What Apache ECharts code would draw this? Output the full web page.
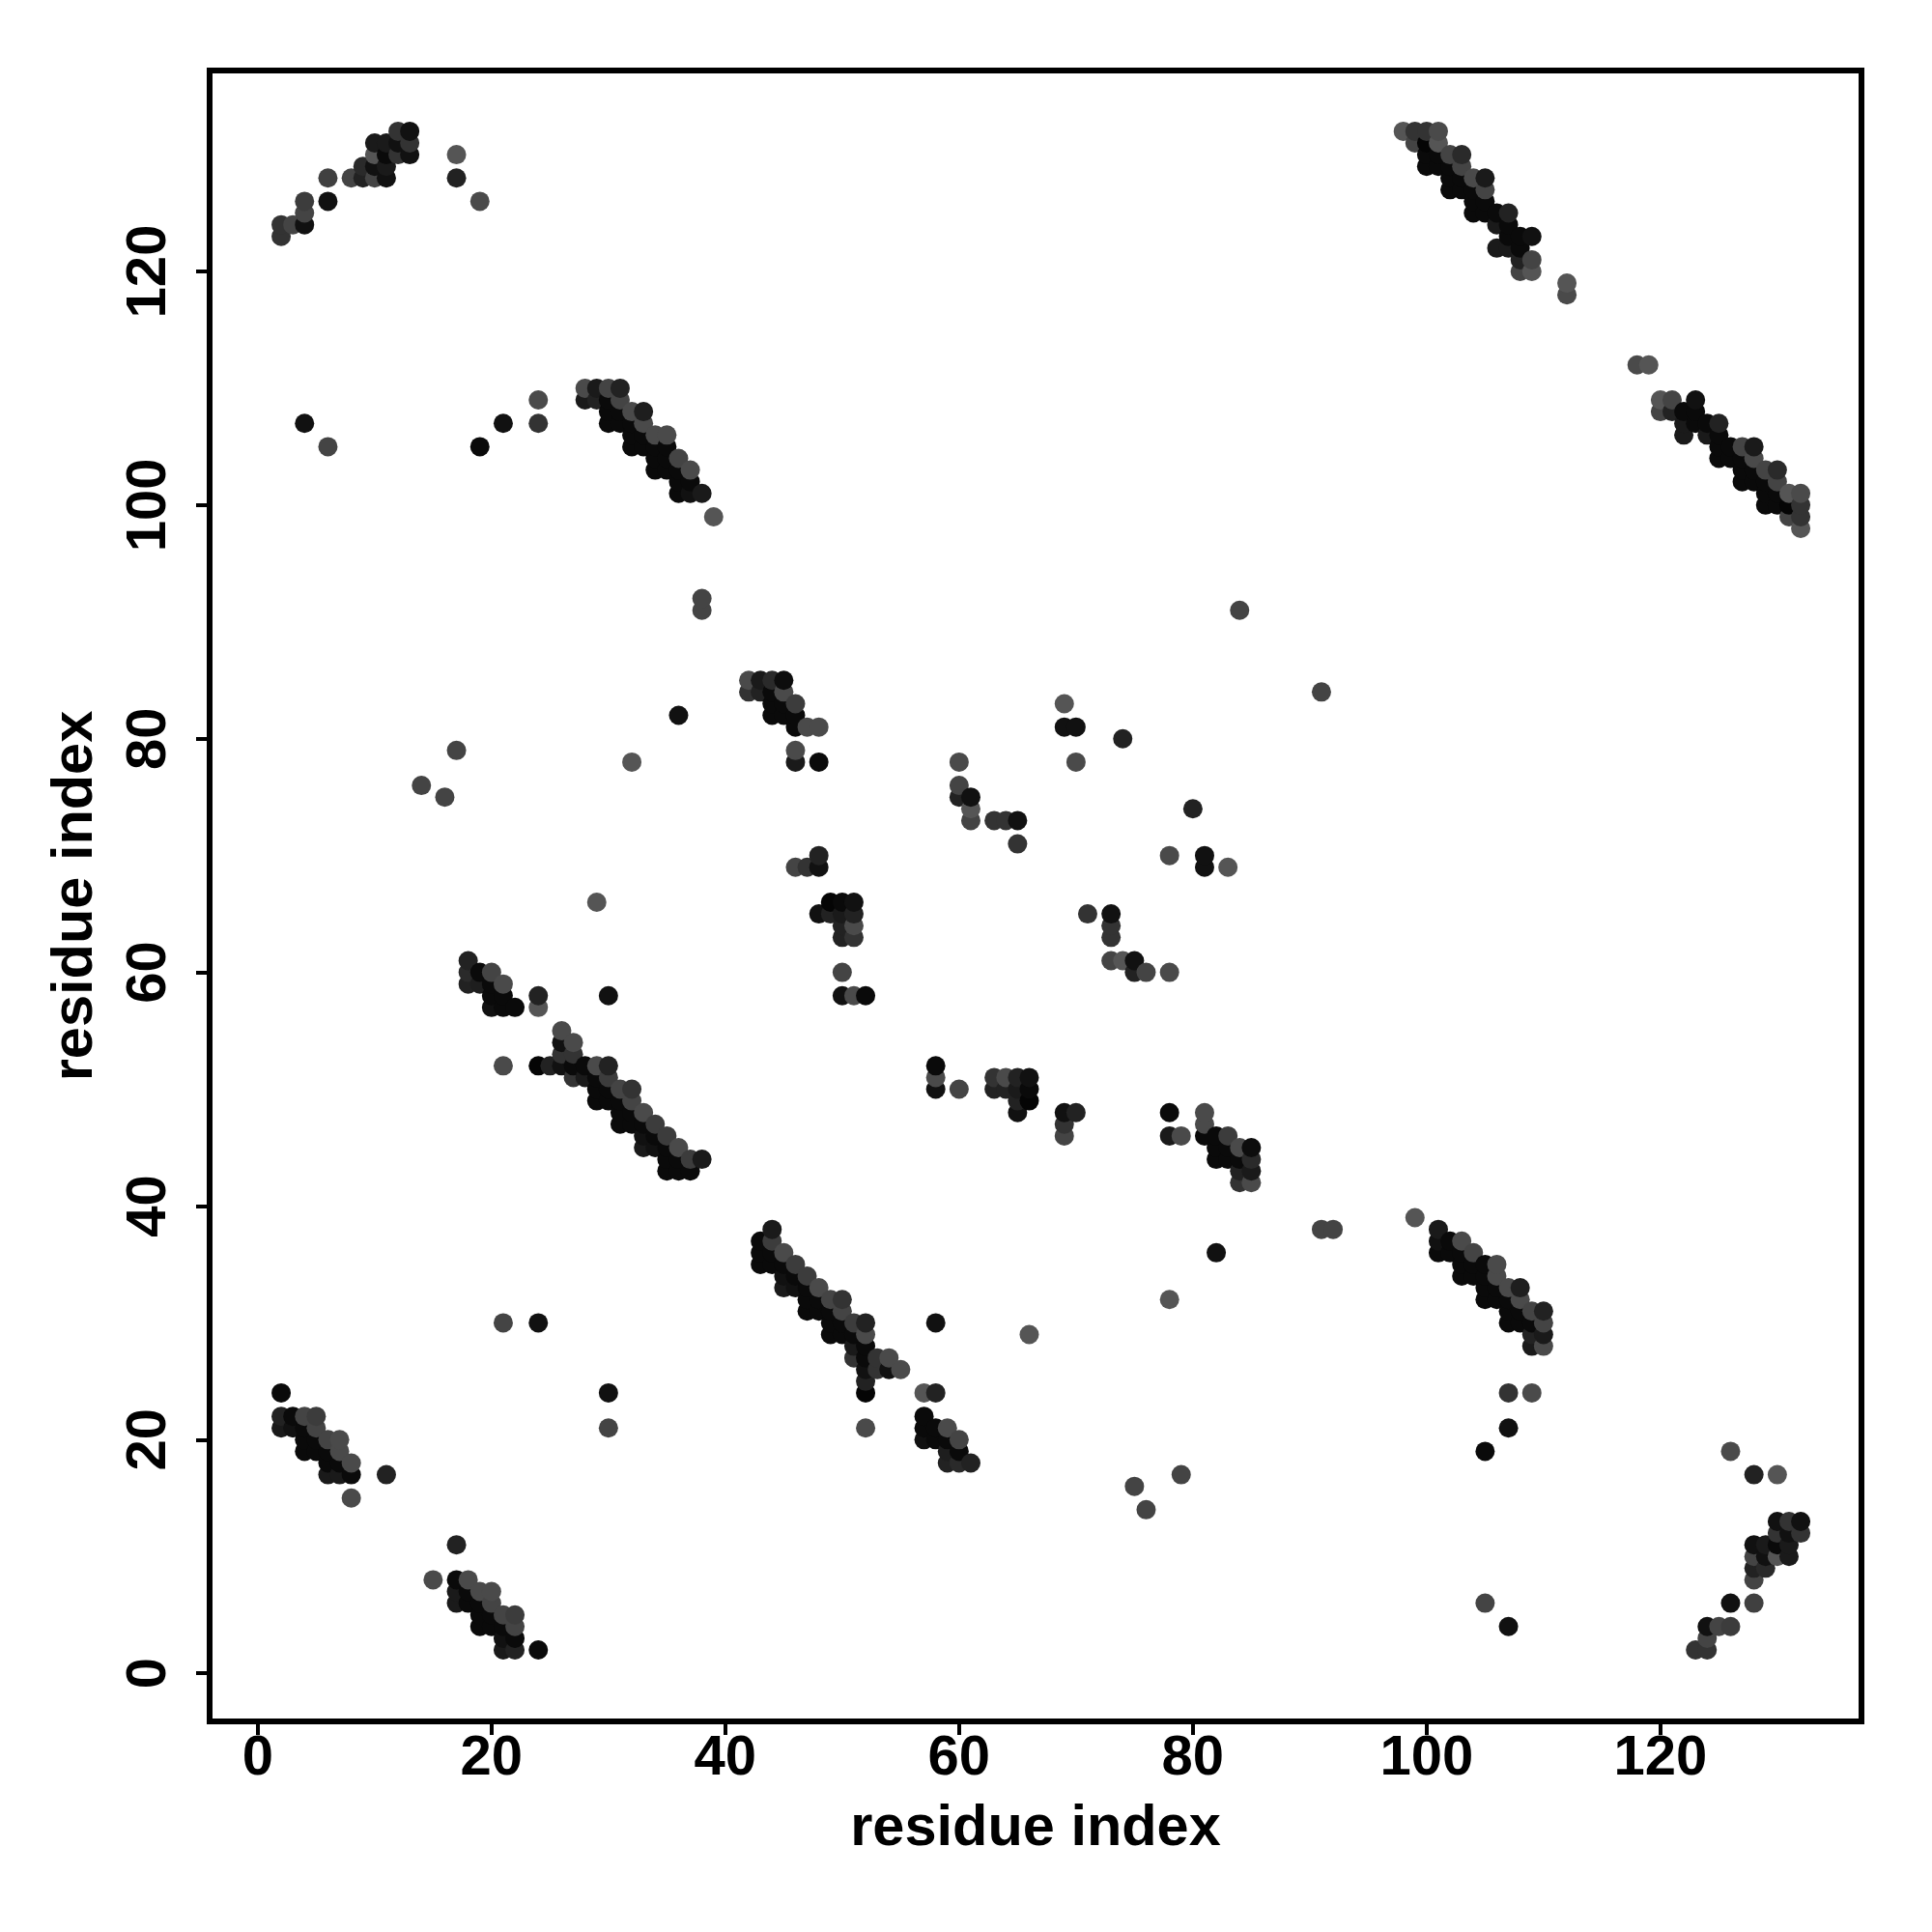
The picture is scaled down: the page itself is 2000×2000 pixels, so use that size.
<!DOCTYPE html>
<html>
<head>
<meta charset="utf-8">
<style>html,body{margin:0;padding:0;background:#fff}#c{width:2000px;height:2000px}</style>
<script src="https://cdn.jsdelivr.net/npm/echarts@6/dist/echarts.min.js"></script>
</head>
<body>
<div id="c"></div>
<script>
// Contact map entries: [residue i, residue j, grey level], i < j. The map is symmetric.
const tickValues = [0, 20, 40, 60, 80, 100, 120];
const axisTitle = "residue index";

const helixEnds = [[2,123,51],[2,124,51],[3,124,68],[4,124,17],[4,125,68],[4,126,60],[6,126,17],[6,128,64],[8,128,68],[9,128,34],[9,129,42],[10,128,68],[10,129,17],[10,130,85],[10,131,26],[11,128,17],[11,129,26],[11,130,10],[11,131,26],[12,130,51],[12,131,17],[12,132,51],[13,130,17],[13,131,51],[13,132,17],[17,128,34],[17,130,85],[19,126,74]];

const helixTail = [[98,132,85],[99,131,68],[99,132,51],[100,129,10],[100,130,10],[100,131,5],[100,132,51],[101,129,10],[101,130,10],[101,131,85],[101,132,74],[102,127,10],[102,128,10],[102,129,10],[102,130,68],[103,127,10],[103,128,10],[103,129,68],[103,130,42],[104,125,10],[104,126,10],[104,127,10],[104,128,74],[105,125,10],[105,126,10],[105,127,68],[105,128,26],[106,122,26],[106,124,26],[106,125,10],[107,122,26],[107,123,10],[107,124,10],[107,125,34],[108,120,68],[108,121,34],[108,122,10],[108,123,10],[109,120,85],[109,121,68],[109,123,17],[112,118,74],[112,119,85]];

const band28to39 = [[28,109,26],[28,110,74],[29,109,34],[29,110,26],[30,107,10],[30,108,10],[30,109,10],[30,110,68],[31,107,10],[31,108,10],[31,109,68],[31,110,34],[32,105,10],[32,106,10],[32,107,10],[32,108,74],[33,105,10],[33,106,10],[33,107,74],[33,108,30],[34,103,10],[34,104,10],[34,105,10],[34,106,74],[35,103,10],[35,104,10],[35,105,10],[35,106,74],[36,101,10],[36,102,10],[36,103,10],[36,104,68],[37,101,17],[37,102,10],[37,103,74],[38,101,26],[39,99,85]];

const isolated = [[4,107,17],[6,105,68],[19,105,10],[21,107,17],[24,107,51],[24,109,74],[38,91,68],[38,92,68],[36,82,17],[32,78,85],[17,79,68],[14,76,68],[16,75,68],[29,66,85],[84,91,68],[30,58,17],[21,30,68],[24,30,17],[21,52,74]];

const band42to48 = [[42,84,51],[42,85,74],[43,84,34],[43,85,26],[44,82,10],[44,83,10],[44,84,10],[44,85,42],[45,82,10],[45,83,10],[45,84,74],[45,85,13],[46,78,26],[46,79,74],[46,81,10],[46,82,10],[46,83,60],[47,81,74],[48,78,10],[48,81,74]];

const band18to24 = [[18,59,34],[18,60,42],[18,61,34],[19,59,30],[19,60,10],[20,57,17],[20,58,10],[20,59,10],[20,60,68],[21,57,10],[21,58,10],[21,59,74],[22,57,10],[24,57,85],[24,58,34]];

const band24to38 = [[24,52,5],[25,52,34],[26,52,17],[26,53,51],[26,54,17],[26,55,74],[27,51,51],[27,52,10],[27,53,51],[27,54,74],[28,51,26],[28,52,10],[29,49,10],[29,50,10],[29,51,10],[29,52,74],[30,49,10],[30,50,10],[30,51,60],[30,52,34],[31,47,10],[31,48,10],[31,49,10],[31,50,68],[32,47,10],[32,48,10],[32,49,68],[32,50,51],[33,45,26],[33,46,17],[33,47,10],[33,48,74],[34,45,17],[34,46,10],[34,47,60],[35,43,10],[35,44,10],[35,45,10],[35,46,60],[36,43,10],[36,44,10],[36,45,74],[37,43,10],[37,44,60],[38,44,26]];

const band2to8 = [[2,21,26],[2,22,34],[2,24,10],[3,21,17],[3,22,10],[4,19,10],[4,20,10],[4,21,10],[4,22,68],[5,19,10],[5,20,10],[5,21,68],[5,22,60],[6,17,26],[6,18,10],[6,19,10],[6,20,68],[7,17,26],[7,18,10],[7,19,74],[7,20,74],[8,15,74],[8,17,10],[8,18,74],[11,17,34]];

const middleA = [[46,69,68],[47,69,51],[48,69,17],[48,70,34],[48,65,17],[49,65,34],[49,66,5],[50,58,17],[50,60,68],[50,63,34],[50,64,34],[50,65,26],[50,66,10],[51,58,74],[51,63,51],[51,64,74],[51,65,34],[51,66,17],[52,58,10]];

const middleB = [[60,75,34],[60,76,68],[60,78,74],[61,73,68],[61,74,85],[61,75,17],[63,73,51],[64,73,51],[65,71,51],[65,73,17],[69,81,17],[69,83,85],[70,78,74],[70,81,17],[74,80,34]];

const upper = [].concat(helixEnds, helixTail, band28to39, isolated, band42to48, band18to24, band24to38, band2to8, middleA, middleB);
const contacts = upper.concat(upper.map(function (p) { return [p[1], p[0], p[2]]; }));
contacts.sort(function (a, b) { return a[0] - b[0] || a[1] - b[1]; });

const fontFamily = '"Liberation Sans", Arial, sans-serif';
const chart = echarts.init(document.getElementById('c'), null, { renderer: 'canvas' });

function axis(isY) {
  return {
    type: 'value',
    position: isY ? 'left' : 'bottom',
    min: -4.12,
    max: 137.2,
    name: axisTitle,
    nameLocation: 'middle',
    nameGap: isY ? 108 : 82,
    nameRotate: isY ? 90 : 0,
    nameTextStyle: { color: '#000', fontFamily: fontFamily, fontWeight: 'bold', fontSize: 59.5 },
    splitLine: { show: false },
    axisLine: { show: true, onZero: false, lineStyle: { color: '#000', width: 1 } },
    axisTick: { show: true, inside: false, length: 14, customValues: tickValues, lineStyle: { color: '#000', width: 4 } },
    axisLabel: {
      show: true, customValues: tickValues, rotate: isY ? 90 : 0, margin: isY ? 33 : 10,
      color: '#000', fontFamily: fontFamily, fontWeight: 'bold', fontSize: 58, hideOverlap: false,
      formatter: function (v) { return String(v); }
    }
  };
}

chart.setOption({
  animation: false,
  backgroundColor: '#fff',
  grid: { show: true, left: 217, top: 73, width: 1710, height: 1709, borderColor: '#000', borderWidth: 6, backgroundColor: 'transparent', containLabel: false },
  xAxis: axis(false),
  yAxis: axis(true),
  series: [{
    type: 'scatter',
    data: contacts,
    symbol: 'circle',
    symbolSize: 20,
    clip: false,
    large: false,
    encode: { x: 0, y: 1 },
    itemStyle: {
      opacity: 1,
      color: function (p) { const g = p.data[2]; return 'rgb(' + g + ',' + g + ',' + g + ')'; }
    }
  }]
});
</script>
</body>
</html>
